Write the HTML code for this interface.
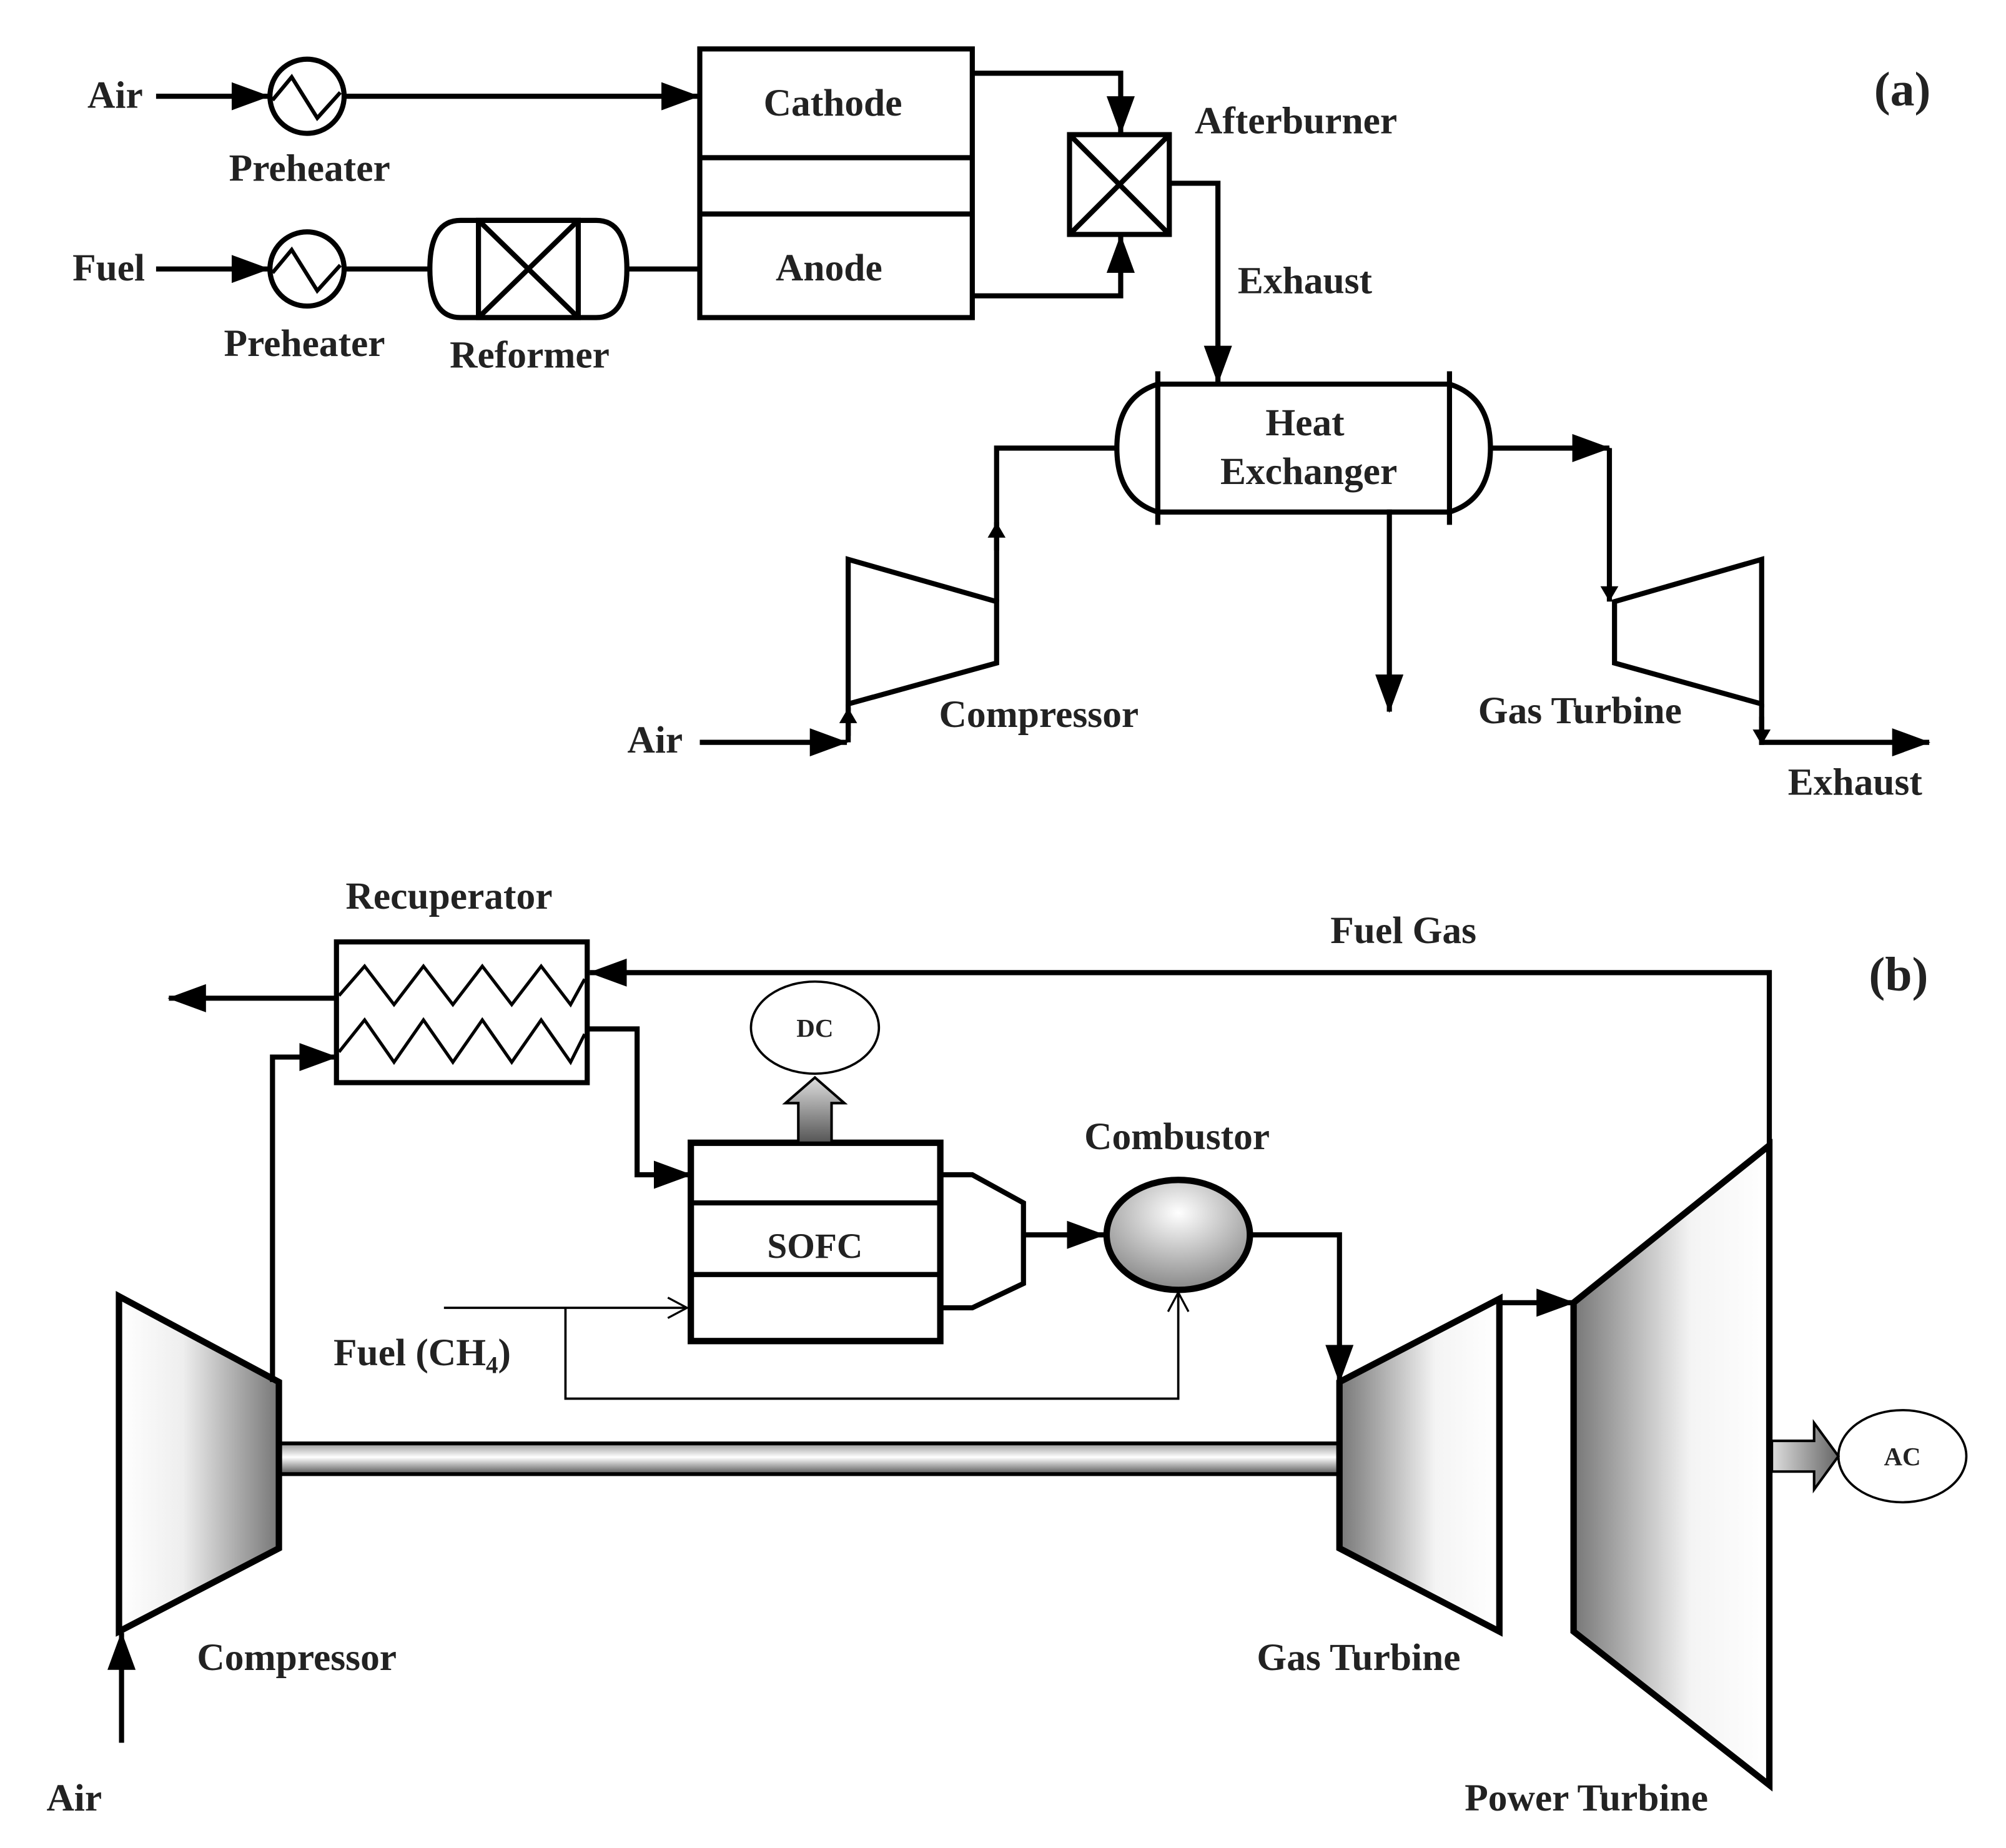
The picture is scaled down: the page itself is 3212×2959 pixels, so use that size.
<!DOCTYPE html>
<html><head><meta charset="utf-8"><style>html,body{margin:0;padding:0;background:#fff}svg{display:block}</style></head>
<body>
<svg width="3212" height="2959" viewBox="0 0 1568 1444" xmlns="http://www.w3.org/2000/svg" font-family="Liberation Serif, serif" font-weight="bold" fill="none" stroke="#000">
<defs>
<marker id="ah" markerWidth="10" markerHeight="10" refX="9" refY="5" orient="auto" markerUnits="userSpaceOnUse" viewBox="0 0 10 10"><path d="M0,0 L10,5 L0,10 z" fill="#000" stroke="none"/></marker>
<marker id="big" markerWidth="30" markerHeight="22" refX="29" refY="11" orient="auto" markerUnits="userSpaceOnUse"><path d="M0,0 L30,11 L0,22 z" fill="#000" stroke="none"/></marker>
<marker id="sm" markerWidth="12" markerHeight="14" refX="12" refY="7" orient="auto" markerUnits="userSpaceOnUse"><path d="M0,0 L12,7 L0,14 z" fill="#000" stroke="none"/></marker>
<marker id="open" markerWidth="20" markerHeight="20" refX="19" refY="10" orient="auto" markerUnits="userSpaceOnUse"><path d="M4,2 L19,10 L4,18" fill="none" stroke="#000" stroke-width="1.6"/></marker>
<linearGradient id="gL" x1="0" x2="1" y1="0" y2="0"><stop offset="0" stop-color="#777"/><stop offset="0.6" stop-color="#f4f4f4"/><stop offset="1" stop-color="#fff"/></linearGradient>
<linearGradient id="gR" x1="0" x2="1" y1="0" y2="0"><stop offset="0" stop-color="#fff"/><stop offset="0.4" stop-color="#eee"/><stop offset="1" stop-color="#777"/></linearGradient>
<linearGradient id="gShaft" x1="0" x2="0" y1="0" y2="1"><stop offset="0" stop-color="#999"/><stop offset="0.45" stop-color="#fff"/><stop offset="1" stop-color="#555"/></linearGradient>
<linearGradient id="gArrow" x1="0" x2="1" y1="0" y2="0"><stop offset="0" stop-color="#ddd"/><stop offset="1" stop-color="#666"/></linearGradient>
<linearGradient id="gArrowV" x1="0" x2="0" y1="1" y2="0"><stop offset="0" stop-color="#555"/><stop offset="1" stop-color="#ddd"/></linearGradient>
<radialGradient id="gComb" cx="0.5" cy="0.3" r="0.8"><stop offset="0" stop-color="#fff"/><stop offset="1" stop-color="#777"/></radialGradient>
</defs>

<!-- ===== Panel (a) ===== -->
<g stroke-width="4">
<line x1="122" y1="75" x2="210" y2="75" marker-end="url(#big)"/>
<circle cx="240" cy="75" r="29"/>
<path d="M213,78 L228,60 L248,92 L266,72" stroke-width="3"/>
<line x1="269" y1="75" x2="546" y2="75" marker-end="url(#big)"/>
<line x1="122" y1="210" x2="210" y2="210" marker-end="url(#big)"/>
<circle cx="240" cy="210" r="29"/>
<path d="M213,213 L228,195 L248,227 L266,207" stroke-width="3"/>
<line x1="269" y1="210" x2="337" y2="210"/>
<path d="M360,172 L466,172 Q490,172 490,210 Q490,248 466,248 L360,248 Q336,248 336,210 Q336,172 360,172 Z"/>
<rect x="374" y="172" width="78" height="76"/>
<path d="M374,172 L452,248 M452,172 L374,248"/>
<line x1="490" y1="210" x2="547" y2="210"/>
<rect x="547" y="38" width="213" height="210"/>
<line x1="547" y1="123" x2="760" y2="123"/>
<line x1="547" y1="167" x2="760" y2="167"/>
<path d="M760,57 L876,57 L876,104" marker-end="url(#big)"/>
<path d="M760,231 L876,231 L876,184" marker-end="url(#big)"/>
<rect x="836" y="105" width="78" height="78"/>
<path d="M836,105 L914,183 M914,105 L836,183"/>
<path d="M914,143 L952,143 L952,299" marker-end="url(#big)"/>
<path d="M905,300 L1133,300 M905,400 L1133,400"/>
<path d="M905,300 Q873,310 873,350 Q873,390 905,400"/>
<path d="M1133,300 Q1165,310 1165,350 Q1165,390 1133,400"/>
<line x1="905" y1="290" x2="905" y2="410"/>
<line x1="1133" y1="290" x2="1133" y2="410"/>
<path d="M873,350 L779,350 L779,470"/>
<line x1="779" y1="430" x2="779" y2="408" marker-end="url(#sm)"/>
<path d="M663,437 L779,470 L779,518 L663,550 Z"/>
<line x1="547" y1="580" x2="662" y2="580" marker-end="url(#big)"/>
<line x1="663" y1="580" x2="663" y2="550"/>
<line x1="663" y1="575" x2="663" y2="553" marker-end="url(#sm)"/>
<line x1="1086" y1="398" x2="1086" y2="556" marker-end="url(#big)"/>
<path d="M1165,350 L1258,350" marker-end="url(#big)"/>
<line x1="1258" y1="350" x2="1258" y2="470" marker-end="url(#sm)"/>
<path d="M1262,470 L1377,437 L1377,550 L1262,518 Z"/>
<path d="M1377,550 L1377,580 L1508,580" marker-end="url(#big)"/>
<line x1="1377" y1="560" x2="1377" y2="582" marker-end="url(#sm)"/>
</g>
<g fill="#222" stroke="none" font-size="30" text-anchor="middle">
<text x="90" y="84">Air</text>
<text x="85" y="219">Fuel</text>
<text x="242" y="141">Preheater</text>
<text x="238" y="278">Preheater</text>
<text x="414" y="287">Reformer</text>
<text x="651" y="90">Cathode</text>
<text x="648" y="219">Anode</text>
<text x="1013" y="104">Afterburner</text>
<text x="1020" y="229">Exhaust</text>
<text x="1020" y="340">Heat</text>
<text x="1023" y="378">Exchanger</text>
<text x="512" y="588">Air</text>
<text x="812" y="568">Compressor</text>
<text x="1235" y="565">Gas Turbine</text>
<text x="1450" y="621">Exhaust</text>
<text x="1487" y="82" font-size="38">(a)</text>
</g>

<!-- ===== Panel (b) ===== -->
<g stroke-width="4">
<rect x="218" y="1128" width="829" height="24" fill="url(#gShaft)" stroke-width="3"/>
<path d="M93,1013 L218,1080 L218,1210 L93,1275 Z" fill="url(#gR)" stroke-width="5"/>
<path d="M1047,1080 L1172,1015 L1172,1275 L1047,1210 Z" fill="url(#gL)" stroke-width="5"/>
<path d="M1230,1018 L1383,895 L1383,1395 L1230,1275 Z" fill="url(#gL)" stroke-width="5"/>
<rect x="263" y="736" width="196" height="110"/>
<path d="M265,778 L285,755 L308,785 L331,755 L354,785 L377,755 L400,785 L423,755 L446,785 L457,765" stroke-width="2.5"/>
<path d="M265,822 L285,797 L308,830 L331,797 L354,830 L377,797 L400,830 L423,797 L446,830 L457,808" stroke-width="2.5"/>
<line x1="263" y1="780" x2="132" y2="780" marker-end="url(#big)"/>
<path d="M1383,895 L1383,760 L461,760" marker-end="url(#big)"/>
<path d="M213,1080 L213,826 L263,826" marker-end="url(#big)"/>
<path d="M459,804 L498,804 L498,918 L540,918" marker-end="url(#big)"/>
<rect x="540" y="893" width="195" height="155" stroke-width="5"/>
<line x1="540" y1="940" x2="735" y2="940"/>
<line x1="540" y1="996" x2="735" y2="996"/>
<path d="M735,918 L760,918 L800,940 L800,1003 L760,1022 L735,1022"/>
<line x1="800" y1="965" x2="863" y2="965" marker-end="url(#big)"/>
<ellipse cx="921" cy="965" rx="56" ry="43" fill="url(#gComb)" stroke-width="5"/>
<path d="M978,965 L1047,965 L1047,1080" marker-end="url(#big)"/>
<path d="M1172,1018 L1230,1018" marker-end="url(#big)"/>
<line x1="95" y1="1362" x2="95" y2="1276" marker-end="url(#big)"/>
</g>
<g stroke-width="1.8">
<line x1="347" y1="1022" x2="537" y2="1022" marker-end="url(#open)"/>
<path d="M442,1022 L442,1093 L921,1093 L921,1010" marker-end="url(#open)"/>
<ellipse cx="637" cy="803" rx="50" ry="36" fill="#fff"/>
<ellipse cx="1487" cy="1138" rx="50" ry="36" fill="#fff"/>
<path d="M624,893 L624,862 L614,862 L637,842 L660,862 L650,862 L650,893 Z" fill="url(#gArrowV)" stroke-width="2"/>
<path d="M1385,1126 L1418,1126 L1418,1112 L1437,1138 L1418,1164 L1418,1150 L1385,1150 Z" fill="url(#gArrow)" stroke-width="2"/>
</g>
<g fill="#222" stroke="none" font-size="30" text-anchor="middle">
<text x="351" y="710">Recuperator</text>
<text x="1097" y="737">Fuel Gas</text>
<text x="1484" y="774" font-size="38">(b)</text>
<text x="637" y="983" font-size="28">SOFC</text>
<text x="920" y="898">Combustor</text>
<text x="637" y="810" font-size="20">DC</text>
<text x="1487" y="1145" font-size="20">AC</text>
<text x="330" y="1067">Fuel (CH<tspan font-size="19" dy="6">4</tspan><tspan dy="-6">)</tspan></text>
<text x="232" y="1305">Compressor</text>
<text x="1062" y="1305">Gas Turbine</text>
<text x="1240" y="1415">Power Turbine</text>
<text x="58" y="1415">Air</text>
</g>
</svg>
</body></html>
